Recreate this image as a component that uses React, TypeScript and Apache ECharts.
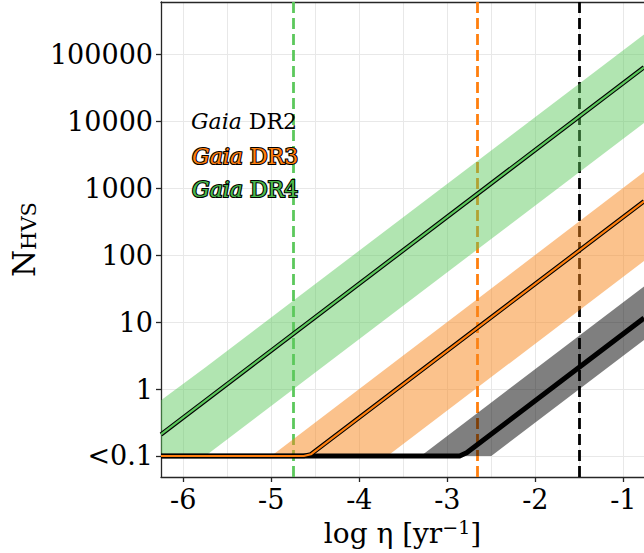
import React, { useEffect, useRef } from 'react';
import * as echarts from 'echarts';

const FONT = "'DejaVu Serif', serif";

// axis ranges (log10 eta, log10 N)
const X_MIN = -6.253;
const X_MAX = -0.765;
const Y_MIN = -1.314;
const Y_MAX = 5.785;

const xTicks = [-6, -5, -4, -3, -2, -1];
const xGrid = [-6, -5.5, -5, -4.5, -4, -3.5, -3, -2.5, -2, -1.5, -1];
const yTicks = [-1, 0, 1, 2, 3, 4, 5];
const yTickLabels = ['<0.1', '1', '10', '100', '1000', '10000', '100000'];

// median curves: [log eta, N]
const dr2Line: [number, number][] = [[-6.253, 0.1], [-2.86, 0.1], [-2.78, 0.112], [-0.765, 11.5]];
const dr3Line: [number, number][] = [[-6.253, 0.1], [-4.63, 0.1], [-4.55, 0.106], [-0.765, 640]];
const dr4Line: [number, number][] = [[-6.253, 0.21], [-0.765, 64500]];

// uncertainty bands
const dr2BandEta = [-6.253, -3.3, -2.5, -0.765];
const dr2BandUpper = [0.1, 0.1, 0.63, 34];
const dr2BandLower = [0.1, 0.1, 0.1, 5.4];
const dr3BandEta = [-6.253, -5.0, -3.68, -0.765];
const dr3BandUpper = [0.1, 0.1, 2.1, 1750];
const dr3BandLower = [0.1, 0.1, 0.1, 82];
const dr4BandEta = [-6.253, -5.75, -0.765];
const dr4BandUpper = [0.68, 2.1, 200000];
const dr4BandLower = [0.1, 0.1, 9500];

// detection thresholds (log eta)
const cutoffEta = [-4.75, -2.66, -1.5];
const cutoffColors = ['#5cc85c', '#ff7f0e', '#000000'];

const lg = (v: number) => Math.log10(v);

function band(eta: number[], lower: number[], upper: number[], color: string, opacity: number) {
  return {
    type: 'custom',
    silent: true,
    z: 2,
    data: [[0]],
    renderItem: (_params: any, api: any) => {
      const up = eta.map((e, i) => api.coord([e, lg(upper[i])]));
      const lo = eta.map((e, i) => api.coord([e, lg(lower[i])])).reverse();
      return {
        type: 'polygon',
        shape: { points: [...up, ...lo] },
        style: { fill: color, opacity },
        silent: true,
      };
    },
  };
}

function outlinedLine(data: [number, number][], color: string) {
  const d = data.map(([e, n]) => [e, lg(n)]);
  return [
    { type: 'line', data: d, symbol: 'none', silent: true, z: 3, lineStyle: { color: '#000', width: 4.4, join: 'round' } },
    { type: 'line', data: d, symbol: 'none', silent: true, z: 3, lineStyle: { color, width: 2.2, join: 'round' } },
  ];
}

function legendText(label: string, top: number, fill: string, stroke: boolean) {
  const base: any = { fontSize: 22, fontFamily: FONT, fill };
  if (stroke) { base.stroke = '#000'; base.lineWidth = 2.2; }
  return {
    type: 'text', left: 191, top,
    style: {
      text: '{i|Gaia} {n|' + label + '}',
      ...base,
      strokeFirst: true,
      rich: {
        i: { ...base, fontStyle: 'italic' },
        n: { ...base, fontStyle: 'normal' },
      },
    },
    z: 10,
  };
}

export default function App() {
  const ref = useRef<HTMLDivElement>(null);
  useEffect(() => {
    if (!ref.current) return;
    const chart = echarts.init(ref.current, null, { renderer: 'svg' });
    const axisColor = '#262626';
    const gridColor = '#e8e8e8';
    chart.setOption({
      animation: false,
      backgroundColor: '#fff',
      grid: { left: 160, top: 2, right: 0, bottom: 76 },
      xAxis: [
        {
          type: 'value', position: 'bottom', min: X_MIN, max: X_MAX,
          axisLine: { show: true, onZero: false, lineStyle: { color: axisColor, width: 1.3 } },
          axisTick: { show: true, customValues: xTicks, length: 5, lineStyle: { color: axisColor, width: 1.3 } },
          axisLabel: { customValues: xTicks, fontSize: 27, fontFamily: FONT, color: '#000', margin: 9, formatter: (v: number) => String(Math.round(v)) },
          splitLine: { show: false },
          name: 'log η [yr{sup|−1}]',
          nameLocation: 'middle', nameGap: 40,
          nameTextStyle: {
            fontSize: 28, fontFamily: FONT, color: '#000',
            rich: { sup: { fontSize: 19, fontFamily: FONT, color: '#000', verticalAlign: 'top', padding: [0, 0, 12, 0] } },
          },
        },
        {
          type: 'value', position: 'top', min: X_MIN, max: X_MAX,
          axisLine: { show: true, onZero: false, lineStyle: { color: axisColor, width: 1.3 } },
          axisTick: { show: false, customValues: xGrid },
          axisLabel: { show: false },
          splitLine: { show: true, lineStyle: { color: gridColor, width: 1 } },
        },
      ],
      yAxis: {
        type: 'value', min: Y_MIN, max: Y_MAX,
        axisLine: { show: true, onZero: false, lineStyle: { color: axisColor, width: 1.3 } },
        axisTick: { show: true, customValues: yTicks, length: 5, lineStyle: { color: axisColor, width: 1.3 } },
        axisLabel: {
          customValues: yTicks, fontSize: 27, fontFamily: FONT, color: '#000', margin: 8,
          formatter: (v: number) => yTickLabels[yTicks.indexOf(Math.round(v))] ?? '',
        },
        splitLine: { show: true, lineStyle: { color: gridColor, width: 1 } },
        name: 'N{sub|HVS}',
        nameLocation: 'middle', nameRotate: 90, nameGap: 122,
        nameTextStyle: {
          fontSize: 31, fontFamily: FONT, color: '#000',
          rich: { sub: { fontSize: 21, fontFamily: FONT, color: '#000', verticalAlign: 'bottom', padding: [10, 0, 0, 0] } },
        },
      },
      graphic: [
        legendText('DR2', 110, '#000', false),
        legendText('DR3', 144, '#ff7f0e', true),
        legendText('DR4', 177, '#4cb84c', true),
      ],
      series: [
        {
          type: 'line', data: [], silent: true, z: 1,
          markLine: {
            z: 1, silent: true, symbol: 'none', label: { show: false },
            lineStyle: { type: [11, 5], width: 2.8 },
            data: cutoffEta.map((e, i) => ({ xAxis: e, lineStyle: { color: cutoffColors[i], type: [11, 5], width: 2.8 } })),
          },
        },
        band(dr2BandEta, dr2BandLower, dr2BandUpper, '#000000', 0.5),
        band(dr3BandEta, dr3BandLower, dr3BandUpper, '#f7861a', 0.5),
        band(dr4BandEta, dr4BandLower, dr4BandUpper, '#5cc85c', 0.48),
        { type: 'line', data: dr2Line.map(([e, n]) => [e, lg(n)]), symbol: 'none', silent: true, z: 3, lineStyle: { color: '#000', width: 5, join: 'round' } },
        ...outlinedLine(dr3Line, '#ff7f0e'),
        ...outlinedLine(dr4Line, '#5cc85c'),
      ],
    });
    return () => chart.dispose();
  }, []);
  return <div ref={ref} style={{ width: 644, height: 553, position: 'absolute', left: 0, top: 0 }} />;
}
